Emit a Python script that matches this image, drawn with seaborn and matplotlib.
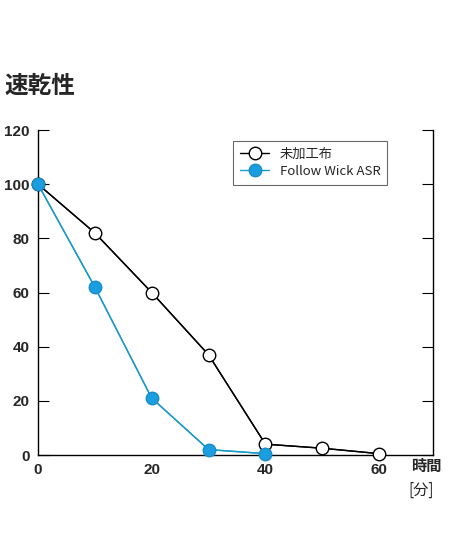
import matplotlib
matplotlib.use("Agg")
import matplotlib.pyplot as plt
import seaborn as sns
import pandas as pd

sns.set_style("white")
plt.rcParams['font.family'] = ['Noto Sans CJK JP', 'DejaVu Sans']

time_a = [0, 10, 20, 30, 40, 50, 60]
vals_a = [100, 82, 60, 37, 4, 2.5, 0.5]
time_b = [0, 10, 20, 30, 40]
vals_b = [100, 62, 21, 2, 0.5]
labels = ["未加工布", "Follow Wick ASR"]

df = pd.concat([
    pd.DataFrame({"t": time_a, "v": vals_a, "s": labels[0]}),
    pd.DataFrame({"t": time_b, "v": vals_b, "s": labels[1]}),
])

fig = plt.figure(figsize=(4.54, 5.44), dpi=100)
ax = fig.add_axes([0.0837, 0.1636, 0.8703, 0.5974])
sns.lineplot(data=df, x="t", y="v", hue="s", palette=["black", "#1a9ac8"],
             ax=ax, legend=False, linewidth=1)
ax.plot(time_a, vals_a, 'o', ms=9, mfc='white', mec='black', mew=1, label=labels[0],
        linestyle='-', color='black', lw=1, clip_on=False, zorder=3)
ax.plot(time_b, vals_b, 'o', ms=9, mfc='#1a9ee0', mec='#1a8cc8', mew=1, label=labels[1],
        linestyle='-', color='#1a9ac8', lw=1, clip_on=False, zorder=4)
ax.set_xlim(0, 69.5)
ax.set_ylim(0, 120)
ax.set_xticks([0, 20, 40, 60])
ax.set_yticks(range(0, 121, 20))
ax.set_xlabel(""); ax.set_ylabel("")
ax.spines["top"].set_visible(False)
for s in ["left", "right", "bottom"]:
    ax.spines[s].set_color("black"); ax.spines[s].set_linewidth(1)
ax.tick_params(axis='y', direction='in', length=8, left=True, right=True, labelsize=11, pad=6, color='black')
ax.tick_params(axis='x', length=0, labelsize=11, pad=6)
for t in ax.get_xticklabels() + ax.get_yticklabels():
    t.set_fontfamily(['Liberation Sans', 'DejaVu Sans'])
    t.set_fontweight('bold')
leg = ax.legend(loc='upper right', bbox_to_anchor=(0.9, 0.985), fontsize=9.5, frameon=True,
                fancybox=False, edgecolor='#444444', handlelength=2.2, borderpad=0.5,
                labelspacing=0.3)
leg.get_frame().set_linewidth(0.8)
fig.text(0.011, 0.83, "速乾性", fontsize=17, fontweight='bold')
fig.text(0.905, 0.135, "時間", fontsize=11, fontweight='bold')
fig.text(0.9, 0.09, "[分]", fontsize=11)
fig.savefig("out.png", dpi=100)
